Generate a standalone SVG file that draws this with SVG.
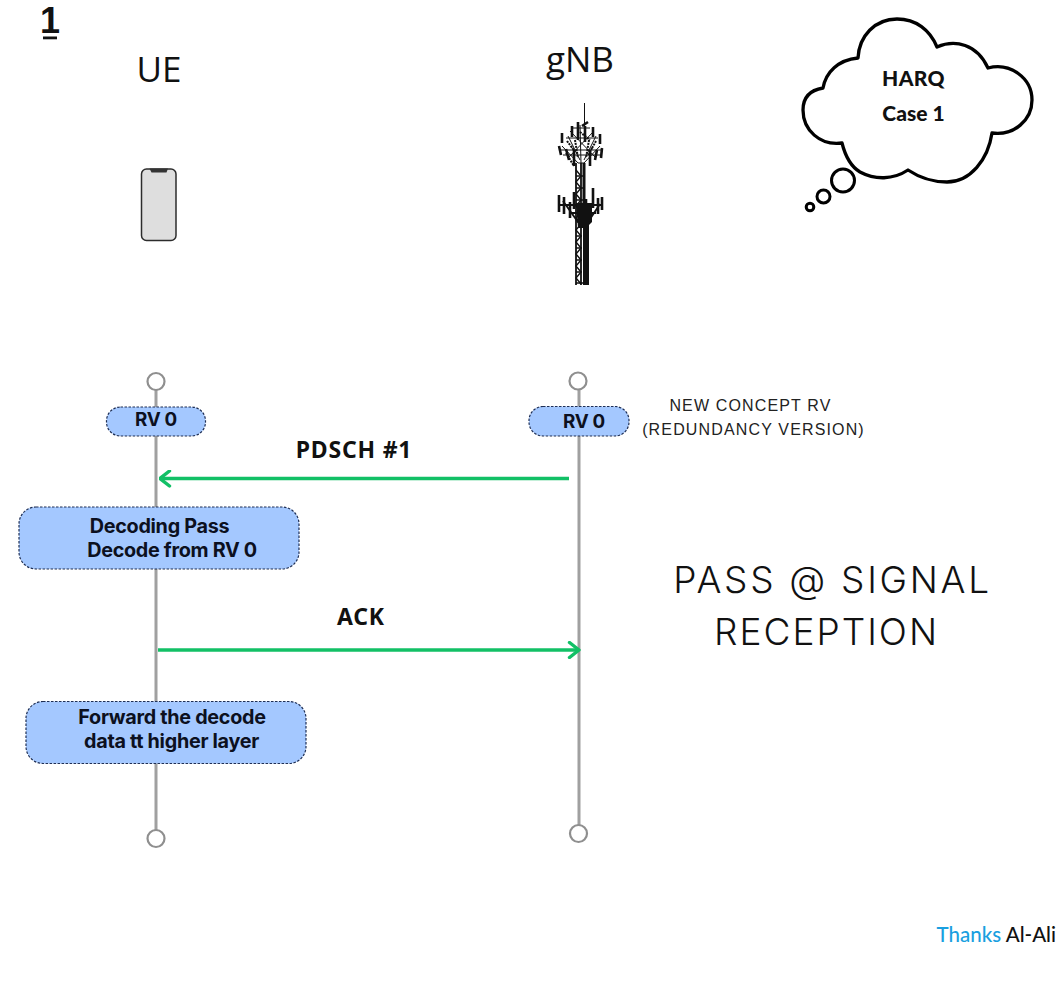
<svg xmlns="http://www.w3.org/2000/svg" width="1064" height="1000" viewBox="0 0 1064 1000">
<style>
.life{stroke:#a0a0a0;stroke-width:3;fill:none}
.end{stroke:#8f8f8f;stroke-width:2.2;fill:#fff}
.box{fill:#a4c8ff;stroke:#1f2f55;stroke-width:1.2;stroke-dasharray:2.5 1.5}
.bt{font-family:"Inter","Liberation Sans",sans-serif;font-weight:700;font-size:19.8px;fill:#0c1020;text-anchor:middle;letter-spacing:-.3px}
.rv{font-size:18.8px}
.head{font-family:"Open Sans","Noto Sans",sans-serif;font-size:35px;fill:#111;text-anchor:middle}
.msg{font-family:"Noto Sans","Open Sans",sans-serif;font-weight:700;font-size:23px;fill:#111;text-anchor:middle;letter-spacing:.8px}
.note{font-family:"Liberation Sans",sans-serif;font-size:16px;fill:#222;text-anchor:middle;letter-spacing:1.15px}
.big{font-family:"Inter","Liberation Sans",sans-serif;font-weight:300;font-size:37px;fill:#111;text-anchor:middle}
.cl{font-family:"Lato","Liberation Sans",sans-serif;font-weight:900;font-size:21px;fill:#111;text-anchor:middle}
.arrow{stroke:#12c066;stroke-width:3.6;fill:none}
.t{stroke:#111;fill:none}
</style>
<defs>
<marker id="open" viewBox="0 0 14 18" refX="12.500" refY="9" markerUnits="userSpaceOnUse" markerWidth="14" markerHeight="18" orient="auto">
<path d="M3 1.500 L12.500 9 L3 16.500" fill="none" stroke="#12c066" stroke-width="3.400" stroke-linecap="round" stroke-linejoin="round"/>
</marker>
</defs>
<rect width="1064" height="1000" fill="#fff"/>

<g id="page-number">
<text x="50" y="33" font-family="'Liberation Sans',sans-serif" font-weight="700" font-size="36" fill="#111" text-anchor="middle">1</text>
<rect x="43" y="36.500" width="14" height="2.800" fill="#111"/>
</g>

<g id="connectors">
<line class="life" x1="156" y1="390" x2="156" y2="830"/>
<line class="life" x1="579" y1="390" x2="579" y2="825"/>
<circle class="end" cx="156" cy="381.500" r="8.500"/>
<circle class="end" cx="578" cy="381" r="8.500"/>
<circle class="end" cx="156" cy="838.500" r="8.500"/>
<circle class="end" cx="578.500" cy="833.500" r="8.500"/>
<line class="arrow" x1="569" y1="478.500" x2="160" y2="478.500" marker-end="url(#open)"/>
<line class="arrow" x1="158" y1="650" x2="579" y2="650" marker-end="url(#open)"/>
<text class="msg" x="354" y="458">PDSCH #1</text>
<text class="msg" x="361" y="625">ACK</text>
</g>

<g id="ue">
<text class="head" x="159" y="82">UE</text>
<rect x="141.500" y="169" width="34.500" height="71.500" rx="5" fill="#dedede" stroke="#2c2c2c" stroke-width="1.500"/>
<path d="M149.500 168.500H168L166.500 172.500H151.500Z" fill="#333"/>
</g>

<g id="gnb">
<text class="head" x="580" y="72">gNB</text>
<g class="t">
<path d="M584.500 103V128" stroke-width="1"/>
<path d="M576 163V285M581 163V285" stroke-width="1.800"/>
<path d="M584 163V222" stroke-width="3"/>
<path d="M586 222V285" stroke-width="6"/>
<path d="M576 170L581 176L576 182L581 188L576 194L581 200L576 206L581 212L576 218L581 224L576 230L581 236L576 242L581 248L576 254L581 260L576 266L581 272L576 278L581 284" stroke-width="1.400"/>
<path d="M576 176H584M576 188H584M576 200H584M576 236H582M576 248H582M576 260H582M576 272H582M576 283H589" stroke-width="1.400"/>
<path d="M562 146L578 163L584 163L600 146M568 136L580 160M596 136L584 160M580 125L581 163M561 150H603M566 138H598M573 128H590M563 155H600M570 131L596 158M594 131L568 158" stroke-width="1"/>
<path d="M562 133V143M572 126V137M593 127V137M600 134V144M559 146L561 155M566 149L569 160M597 150L595 160M602 148L601 158M588 122L582 126M578 122V140M585 126V142M574 150V166M590 150V166" stroke-width="2.600"/>
<path d="M566 153L574 166M575 140L578 158M589 140L586 158M571 146L575 152M592 148L588 156M567 141L573 149M580 132L590 140M596 141L591 150" stroke-width="2" stroke-dasharray="2 1"/>
<path d="M559 205H602M563 201L578 222H588L600 204M570 213H596" stroke-width="1.800"/>
<path d="M559 195V212M564 197V214M570 202V218M574 192V209M593 188V208M598 198V214M602 197V210M586 199V219M590 204V220" stroke-width="2.600"/>
</g>
<path d="M576 203H592V222L586 228H578Z" fill="#111"/>
</g>

<g id="cloud">
<path d="M858 58C859 36 875 19 897 19C916 19 930 30 937 47C955 39 977 44 988 68C1010 62 1032 78 1032 100C1032 120 1014 136 992 133C988 160 970 182 947 182C932 182 920 178 908 170C893 180 875 180 860 172C850 166 845 155 842 143C820 146 803 130 803 110C803 97 811 90 823 88C826 72 838 60 858 58Z" fill="#fff" stroke="#000" stroke-width="3.300" stroke-linejoin="round"/>
<circle cx="843" cy="180.500" r="11.500" fill="#fff" stroke="#000" stroke-width="3"/>
<circle cx="823.500" cy="196.500" r="6.500" fill="#fff" stroke="#000" stroke-width="3"/>
<circle cx="810" cy="207" r="3.800" fill="#fff" stroke="#000" stroke-width="3"/>
<text class="cl" x="913.500" y="86" letter-spacing=".4">HARQ</text>
<text class="cl" x="913.500" y="121">Case 1</text>
</g>

<g id="rv-ue">
<rect class="box" x="106.500" y="407" width="99" height="29" rx="14"/>
<text class="bt rv" x="156" y="425.500">RV 0</text>
</g>
<g id="rv-gnb">
<rect class="box" x="529" y="406.500" width="100" height="29.500" rx="14"/>
<text class="bt rv" x="584" y="427.500">RV 0</text>
</g>
<g id="decoding">
<rect class="box" x="19" y="507" width="280" height="62" rx="17"/>
<text class="bt" x="159.500" y="533">Decoding Pass</text>
<text class="bt" x="172" y="557">Decode from RV 0</text>
</g>
<g id="forward">
<rect class="box" x="26" y="701.500" width="280" height="62" rx="17"/>
<text class="bt" x="172" y="724">Forward the decode</text>
<text class="bt" x="171.500" y="748">data tt higher layer</text>
</g>

<g id="notes">
<text class="note" x="750.500" y="411">NEW CONCEPT RV</text>
<text class="note" x="753.500" y="435">(REDUNDANCY VERSION)</text>
<text class="big" x="832.500" y="593" letter-spacing="2.700">PASS @ SIGNAL</text>
<text class="big" x="826.500" y="645" letter-spacing="2">RECEPTION</text>
<text x="1056" y="942" font-family="Lato,'Liberation Sans',sans-serif" font-size="20.500" font-weight="500" text-anchor="end"><tspan fill="#1a9fe0">Thanks</tspan><tspan fill="#111"> Al-Ali</tspan></text>
</g>
</svg>
